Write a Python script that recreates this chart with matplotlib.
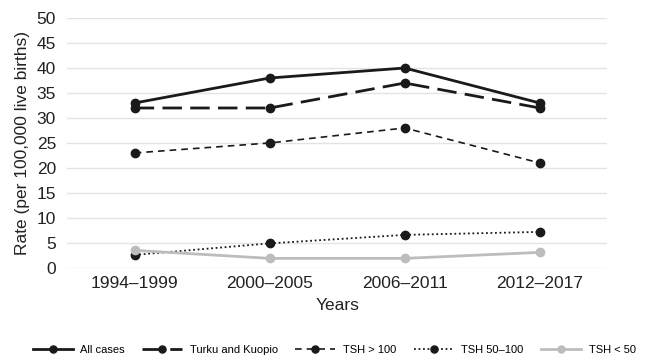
import matplotlib
matplotlib.use("Agg")
import matplotlib.pyplot as plt

plt.rcParams["font.family"] = ["Liberation Sans", "DejaVu Sans"]

periods = ["1994\u20131999", "2000\u20132005", "2006\u20132011", "2012\u20132017"]
all_cases = [33, 38, 40, 33]
turku_kuopio = [32, 32, 37, 32]
tsh_over_100 = [23, 25, 28, 21]
tsh_50_100 = [2.6, 4.9, 6.6, 7.2]
tsh_under_50 = [3.5, 1.9, 1.9, 3.1]

DARK = "#1a1a1a"
GREY = "#bdbdbd"

fig = plt.figure(figsize=(6.46, 3.61), dpi=100)
ax = fig.add_axes([0.104, 0.258, 0.836, 0.692])

x = range(len(periods))
series = [
    (all_cases, "All cases", DARK, "-", 2.0),
    (turku_kuopio, "Turku and Kuopio", DARK, (0, (7, 3)), 2.0),
    (tsh_over_100, "TSH > 100", DARK, (0, (4, 3)), 1.2),
    (tsh_50_100, "TSH 50\u2013100", DARK, (0, (1, 1.5)), 1.3),
    (tsh_under_50, "TSH < 50", GREY, "-", 2.0),
]
for vals, label, color, ls, lw in series:
    ax.plot(x, vals, color=color, linestyle=ls, lw=lw, marker="o",
            markersize=6, label=label)

ax.set_xlim(-0.5, 3.5)
ax.set_ylim(0, 50)
ax.set_yticks(range(0, 51, 5))
ax.set_xticks(list(x))
ax.set_xticklabels(periods)
ax.grid(axis="y", color="#e3e3e3", lw=1)
ax.set_axisbelow(True)
for s in ax.spines.values():
    s.set_visible(False)
ax.tick_params(length=0, labelsize=12.5, colors="#222222")
ax.tick_params(axis="y", pad=8)
ax.tick_params(axis="x", pad=6)
ax.set_xlabel("Years", fontsize=12.5, color="#222222", labelpad=5)
ax.set_ylabel("Rate (per 100,000 live births)", fontsize=12.5,
              color="#222222", labelpad=5)

fig.legend(loc="center left", bbox_to_anchor=(0.035, 0.03), ncol=5,
           frameon=False, fontsize=8, handlelength=3.6, columnspacing=1.55,
           handletextpad=0.7, markerscale=0.85)

fig.savefig("out.png", dpi=100)
